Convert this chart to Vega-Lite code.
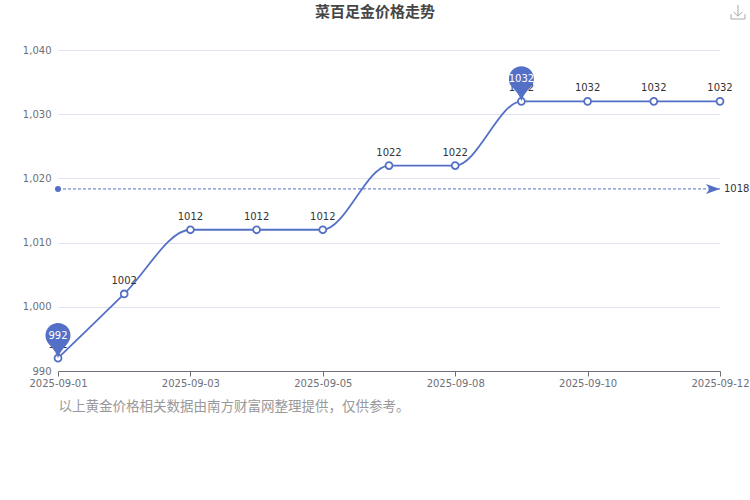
{
  "$schema": "https://vega.github.io/schema/vega-lite/v6.json",
  "width": 662,
  "height": 321,
  "autosize": "none",
  "padding": {"left": 58, "top": 50, "right": 30, "bottom": 129},
  "background": "white",
  "title": {
    "text": "菜百足金价格走势",
    "font": "Noto Sans CJK SC",
    "fontSize": 15,
    "fontWeight": "bold",
    "color": "#464646",
    "anchor": "middle",
    "dx": -14,
    "offset": -17
  },
  "view": {"stroke": null},
  "config": {"text": {"font": "DejaVu Sans"}},
  "datasets": {
    "prices": [
      {"date": "2025-09-01", "price": 992},
      {"date": "2025-09-02", "price": 1002},
      {"date": "2025-09-03", "price": 1012},
      {"date": "2025-09-04", "price": 1012},
      {"date": "2025-09-05", "price": 1012},
      {"date": "2025-09-06", "price": 1022},
      {"date": "2025-09-08", "price": 1022},
      {"date": "2025-09-09", "price": 1032},
      {"date": "2025-09-10", "price": 1032},
      {"date": "2025-09-11", "price": 1032},
      {"date": "2025-09-12", "price": 1032}
    ],
    "extremes": [
      {"date": "2025-09-01", "price": 992},
      {"date": "2025-09-09", "price": 1032}
    ],
    "average": [
      {"date": "2025-09-01", "price": 1018.36},
      {"date": "2025-09-12", "price": 1018.36}
    ]
  },
  "data": {"name": "prices"},
  "encoding": {
    "x": {
      "field": "date",
      "type": "ordinal",
      "scale": {"type": "point", "padding": 0},
      "title": "以上黄金价格相关数据由南方财富网整理提供，仅供参考。",
      "axis": {
        "values": ["2025-09-01", "2025-09-03", "2025-09-05", "2025-09-08", "2025-09-10", "2025-09-12"],
        "labelAngle": 0,
        "labelFont": "DejaVu Sans",
        "labelFontSize": 10,
        "labelColor": "#6E7079",
        "labelPadding": 2,
        "domainColor": "#6E7079",
        "tickColor": "#6E7079",
        "tickSize": 5,
        "grid": false,
        "titleFont": "Noto Sans CJK SC",
        "titleFontSize": 13.5,
        "titleFontWeight": "normal",
        "titleColor": "#999999",
        "titleAnchor": "start",
        "titleAlign": "left",
        "titlePadding": 11
      }
    },
    "y": {
      "field": "price",
      "type": "quantitative",
      "scale": {"domain": [990, 1040], "nice": false, "zero": false},
      "title": null,
      "axis": {
        "values": [990, 1000, 1010, 1020, 1030, 1040],
        "format": ",.0f",
        "labelFont": "DejaVu Sans",
        "labelFontSize": 10,
        "labelColor": "#6E7079",
        "labelPadding": 7,
        "domain": false,
        "ticks": false,
        "gridColor": "#E0E6F1",
        "gridWidth": 1
      }
    }
  },
  "layer": [
    {
      "data": {"name": "average"},
      "mark": {"type": "line", "color": "#5470c6", "strokeWidth": 1, "strokeDash": [3, 2]}
    },
    {
      "data": {"name": "average"},
      "transform": [{"filter": "datum.date == '2025-09-01'"}],
      "mark": {"type": "point", "shape": "circle", "filled": true, "color": "#5470c6", "opacity": 1, "size": 36}
    },
    {
      "data": {"name": "average"},
      "transform": [{"filter": "datum.date == '2025-09-12'"}],
      "mark": {"type": "point", "shape": "M0,0 L-1,-0.36 L-0.75,0 L-1,0.36 Z", "filled": true, "color": "#5470c6", "opacity": 1, "size": 784}
    },
    {
      "data": {"name": "average"},
      "transform": [{"filter": "datum.date == '2025-09-12'"}],
      "mark": {"type": "text", "align": "left", "baseline": "middle", "dx": 4, "fontSize": 10, "color": "#333333"},
      "encoding": {"text": {"field": "price", "type": "quantitative", "format": ".0f"}}
    },
    {
      "mark": {"type": "line", "color": "#5470c6", "strokeWidth": 1.8, "interpolate": "monotone"}
    },
    {
      "mark": {"type": "point", "shape": "circle", "filled": true, "fill": "white", "stroke": "#5470c6", "strokeWidth": 1.8, "opacity": 1, "size": 48}
    },
    {
      "mark": {"type": "text", "baseline": "middle", "dy": -13, "fontSize": 10, "color": "#333333"},
      "encoding": {"text": {"field": "price", "type": "quantitative"}}
    },
    {
      "data": {"name": "extremes"},
      "mark": {
        "type": "point",
        "shape": "M0,0 C-0.05,-0.2 -0.2,-0.4 -0.36,-0.56 A0.5,0.5 0 1 1 0.36,-0.56 C0.2,-0.4 0.05,-0.2 0,0 Z",
        "filled": true,
        "color": "#5470c6",
        "opacity": 1,
        "size": 2500
      }
    },
    {
      "data": {"name": "extremes"},
      "mark": {"type": "text", "baseline": "middle", "dy": -22, "fontSize": 10, "color": "white"},
      "encoding": {"text": {"field": "price", "type": "quantitative"}}
    },
    {
      "data": {"values": [{"date": "2025-09-12", "price": 1040}]},
      "mark": {
        "type": "point",
        "shape": "M-1,0.3 L-1,1 L1,1 L1,0.3 M0,-1 L0,0.6 M-0.6,0 L0,0.6 L0.6,0",
        "filled": false,
        "stroke": "#A8A8A8",
        "strokeWidth": 1,
        "opacity": 1,
        "size": 196,
        "xOffset": 18,
        "yOffset": -38
      }
    }
  ]
}
